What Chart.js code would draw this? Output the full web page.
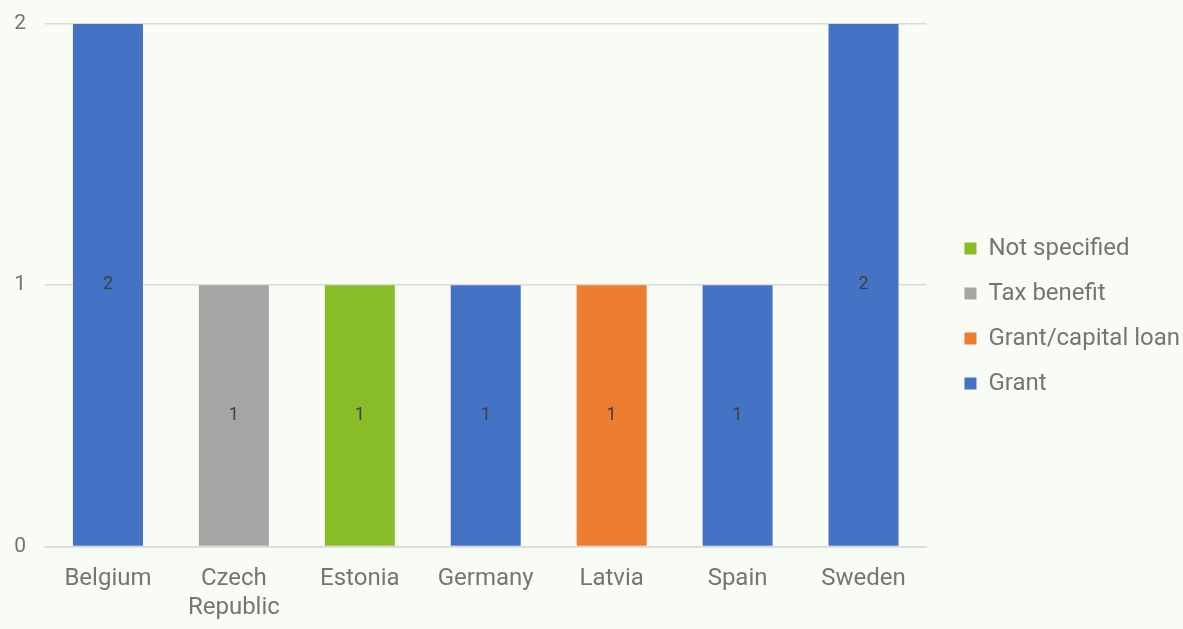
<!DOCTYPE html>
<html>
<head>
<meta charset="utf-8">
<script src="https://cdn.jsdelivr.net/npm/chart.js@4/dist/chart.umd.min.js"></script>
<style>
  html, body { margin: 0; padding: 0; background: #f9fcf5; }
  #wrap { width: 1183px; height: 629px; position: relative; }
</style>
</head>
<body>
<div id="wrap"><canvas id="c" width="1183" height="629"></canvas></div>
<script>
// Support instruments per country, by type
const countries = ['Belgium', ['Czech', 'Republic'], 'Estonia', 'Germany', 'Latvia', 'Spain', 'Sweden'];
const grant = [2, null, null, 1, null, 1, 2];
const grantCapitalLoan = [null, null, null, null, 1, null, null];
const taxBenefit = [null, 1, null, null, null, null, null];
const notSpecified = [null, null, 1, null, null, null, null];
const yTicks = [0, 1, 2];

// Writes each segment's value in the middle of its bar
const barValueLabels = {
  id: 'barValueLabels',
  afterDatasetsDraw(chart) {
    const ctx = chart.ctx;
    ctx.save();
    ctx.font = '18px Roboto';
    ctx.fillStyle = '#404040';
    ctx.textAlign = 'center';
    ctx.textBaseline = 'middle';
    chart.data.datasets.forEach((ds, i) => {
      const meta = chart.getDatasetMeta(i);
      meta.data.forEach((bar, j) => {
        const v = ds.data[j];
        if (v === null || v === undefined) return;
        const p = bar.getProps(['x', 'y', 'base'], true);
        ctx.fillText(String(v), p.x, (p.y + p.base) / 2);
      });
    });
    ctx.restore();
  }
};

// Leaves a wider gutter between the plot and the legend entries
const legendGutter = {
  id: 'legendGutter',
  afterLayout(chart) {
    const lg = chart.legend;
    if (!lg) return;
    lg.left += 17;
    lg.right += 17;
  }
};

const common = { barPercentage: 1, categoryPercentage: 0.556 };

new Chart(document.getElementById('c'), {
  type: 'bar',
  data: {
    labels: countries,
    datasets: [
      { label: 'Grant', data: grant, backgroundColor: '#4472c4', ...common },
      { label: 'Grant/capital loan', data: grantCapitalLoan, backgroundColor: '#ed7d31', ...common },
      { label: 'Tax benefit', data: taxBenefit, backgroundColor: '#a5a5a5', ...common },
      { label: 'Not specified', data: notSpecified, backgroundColor: '#88bd28', ...common }
    ]
  },
  options: {
    responsive: false,
    animation: false,
    layout: { padding: { top: 0, left: 0, right: 10, bottom: -3 } },
    plugins: {
      tooltip: { enabled: false },
      legend: {
        position: 'right',
        reverse: true,
        labels: {
          font: { family: 'Roboto', size: 24 },
          color: '#757575',
          boxWidth: 12,
          boxHeight: 12,
          padding: 21
        }
      }
    },
    scales: {
      x: {
        stacked: true,
        grid: { display: false },
        border: { color: '#d9d9d9', width: 1.5 },
        ticks: {
          font: { family: 'Roboto', size: 24 },
          color: '#757575',
          maxRotation: 0,
          padding: 10
        }
      },
      y: {
        stacked: true,
        min: 0,
        max: 2,
        afterBuildTicks(axis) { axis.ticks = yTicks.map(v => ({ value: v })); },
        afterFit(axis) {
          axis.width = 45;
          axis.paddingTop = 24;
        },
        grid: { color: '#d9d9d9', lineWidth: 1.5, drawTicks: false },
        border: { display: false },
        ticks: {
          font: { family: 'Roboto', size: 21 },
          color: '#757575',
          padding: 19
        }
      }
    }
  },
  plugins: [barValueLabels, legendGutter]
});
</script>
</body>
</html>
